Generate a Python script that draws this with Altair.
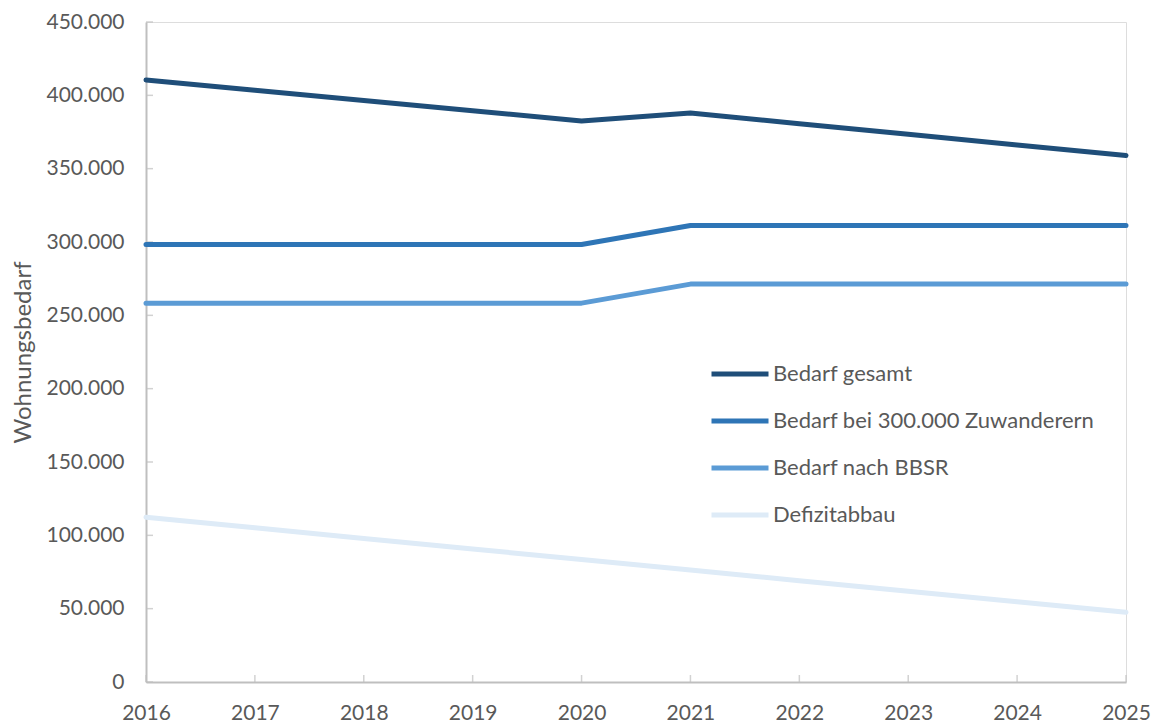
import altair as alt
import pandas as pd

years = [2016, 2017, 2018, 2019, 2020, 2021, 2022, 2023, 2024, 2025]
series_names = ["Bedarf gesamt", "Bedarf bei 300.000 Zuwanderern", "Bedarf nach BBSR", "Defizitabbau"]
bedarf_gesamt = [410500, 403500, 396500, 389500, 382500, 388000, 380700, 373500, 366200, 359000]
bedarf_300k = [298300, 298300, 298300, 298300, 298300, 311300, 311300, 311300, 311300, 311300]
bedarf_bbsr = [258300, 258300, 258300, 258300, 258300, 271300, 271300, 271300, 271300, 271300]
defizitabbau = [112300, 105100, 97900, 90700, 83500, 76300, 69100, 61900, 54700, 47500]
colors = ["#1F4E79", "#2E75B6", "#5B9BD5", "#DEEBF7"]
y_ticks = [0, 50000, 100000, 150000, 200000, 250000, 300000, 350000, 400000, 450000]

rows = []
for name, vals in zip(series_names, [bedarf_gesamt, bedarf_300k, bedarf_bbsr, defizitabbau]):
    for yr, v in zip(years, vals):
        rows.append({"Jahr": yr, "Wert": v, "Reihe": name})
df = pd.DataFrame(rows)

W, H = 980, 660
FONT = "Lato"
GREY = "#595959"
AX = "#BFBFBF"

x_scale = alt.Scale(domain=[2016, 2025], nice=False, zero=False)
y_scale = alt.Scale(domain=[0, 450000], nice=False)

lines = alt.Chart(df).mark_line(strokeWidth=5, strokeCap="round", strokeJoin="round").encode(
    x=alt.X("Jahr:Q", scale=x_scale,
            axis=alt.Axis(values=years, format="d", ticks=False, grid=False, domainColor=AX, domainWidth=2,
                          labelFont=FONT, labelFontSize=21, labelColor=GREY, labelPadding=20,
                          labelFlush=False, labelOverlap=False, title=None)),
    y=alt.Y("Wert:Q", scale=y_scale,
            axis=alt.Axis(values=y_ticks, ticks=False, grid=False, domainColor=AX, domainWidth=2,
                          labelFont=FONT, labelFontSize=21, labelColor=GREY, labelPadding=22,
                          labelExpr="replace(format(datum.value, ',d'), ',', '.')",
                          title="Wohnungsbedarf", titleFont=FONT, titleFontSize=24, titleFontWeight="normal",
                          titleColor=GREY, titleX=-123, titleY=330, titleAngle=270,
                          titleAlign="center", titleBaseline="middle")),
    color=alt.Color("Reihe:N", sort=series_names,
                    scale=alt.Scale(domain=series_names, range=colors),
                    legend=alt.Legend(orient="none", legendX=563, legendY=321, title=None,
                                      symbolType="stroke", symbolSize=3249, symbolStrokeWidth=5,
                                      labelFont=FONT, labelFontSize=22, labelColor=GREY,
                                      labelOffset=2, rowPadding=5, labelLimit=500)),
    order=alt.Order("Jahr:Q"),
)

xt = alt.Chart(pd.DataFrame({"Jahr": years})).mark_tick(orient="vertical", size=7, thickness=1.5, color=AX).encode(
    x=alt.X("Jahr:Q", scale=x_scale),
    y=alt.value(H - 3.5),
)
yt = alt.Chart(pd.DataFrame({"Wert": y_ticks})).mark_tick(orient="horizontal", size=7, thickness=1.5, color=AX).encode(
    y=alt.Y("Wert:Q", scale=y_scale),
    x=alt.value(3.5),
)

chart = alt.layer(xt, yt, lines).properties(
    width=W, height=H,
    autosize=alt.AutoSizeParams(type="none"),
    padding={"left": 138, "top": 14, "right": 26, "bottom": 40},
).configure_view(stroke=None).configure(background="white")

chart.save("out.html", embed_options={"renderer": "svg", "actions": False})
